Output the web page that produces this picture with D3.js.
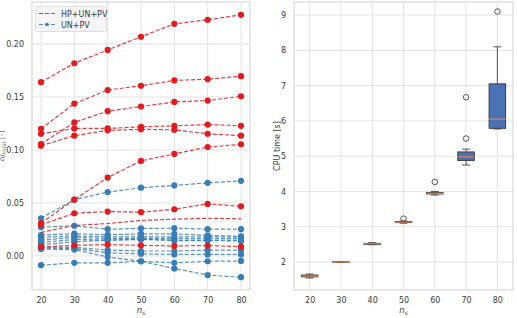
<!DOCTYPE html>
<html><head><meta charset="utf-8">
<script src="https://cdn.jsdelivr.net/npm/d3@7"></script>
<style>
html,body{margin:0;padding:0;background:#fff;}
svg{display:block;font-family:"DejaVu Sans",sans-serif;}
</style></head>
<body><svg id="c" width="517" height="318"></svg>
<script>
// ---------- data ----------
const nsValues = [20, 30, 40, 50, 60, 70, 80];
const xTicks = [20, 30, 40, 50, 60, 70, 80];
const leftYTicks = [0.00, 0.05, 0.10, 0.15, 0.20];
const rightYTicks = [2, 3, 4, 5, 6, 7, 8, 9];
const seriesNames = ["HP+UN+PV", "UN+PV"];

// HP+UN+PV (red)
const red1 = [0.164, 0.1818, 0.1944, 0.2068, 0.219, 0.2228, 0.2275];
const red2 = [0.120, 0.1438, 0.1565, 0.1606, 0.1656, 0.1668, 0.1696];
const red3 = [0.1056, 0.126, 0.1366, 0.141, 0.1453, 0.1466, 0.1506];
const red4 = [0.1153, 0.1203, 0.1203, 0.1218, 0.1228, 0.124, 0.1228];
const red5 = [0.104, 0.1135, 0.1185, 0.1195, 0.119, 0.1153, 0.1135];
const red6 = [0.031, 0.0531, 0.074, 0.0897, 0.0963, 0.1028, 0.1053];
const red7 = [0.0294, 0.0403, 0.0419, 0.0413, 0.0441, 0.0491, 0.0469];
const red8 = [0.0222, 0.0288, 0.0306, 0.0335, 0.0347, 0.0356, 0.035];
const red9 = [0.0085, 0.010, 0.0107, 0.010, 0.0095, 0.0098, 0.0088];
const redSeries = [red8, red1, red2, red3, red4, red5, red6, red7, red9];
const redHasMarkers = [false, true, true, true, true, true, true, true, true];

// UN+PV (blue)
const blue1 = [0.0356, 0.0531, 0.0603, 0.0644, 0.0666, 0.069, 0.0709];
const blue2 = [0.0272, 0.0285, 0.0253, 0.026, 0.0262, 0.0253, 0.0253];
const blue3 = [0.0197, 0.021, 0.020, 0.0209, 0.0209, 0.0194, 0.0185];
const blue4 = [0.0175, 0.019, 0.018, 0.018, 0.018, 0.018, 0.018];
const blue5 = [0.015, 0.0175, 0.0165, 0.0167, 0.0165, 0.0165, 0.0165];
const blue6 = [0.0128, 0.0156, 0.015, 0.0155, 0.015, 0.015, 0.015];
const blue7 = [0.0106, 0.0134, 0.0148, 0.016, 0.0145, 0.0145, 0.0142];
const blue8 = [0.0085, 0.0081, 0.0056, 0.0047, 0.0047, 0.0056, 0.0056];
const blue9 = [0.0075, 0.007, 0.003, 0.002, 0.0015, 0.0015, 0.0015];
const blue10 = [0.0066, 0.006, -0.001, -0.005, -0.0118, -0.018, -0.020];
const blue11 = [-0.0087, -0.0065, -0.0065, -0.005, -0.0065, -0.005, -0.0047];
const blueSeries = [blue1, blue2, blue3, blue4, blue5, blue6, blue7, blue8, blue9, blue10, blue11];

// CPU time boxplot stats per n_s
const whiskerLow  = [1.55, 1.99, 2.49, 3.10, 3.90, 4.75, 5.77];
const q1          = [1.58, 1.995, 2.50, 3.12, 3.93, 4.88, 5.79];
const median      = [1.60, 2.00, 2.52, 3.13, 3.95, 4.98, 6.05];
const q3          = [1.63, 2.005, 2.53, 3.145, 3.97, 5.12, 7.05];
const whiskerHigh = [1.66, 2.01, 2.55, 3.16, 4.00, 5.20, 8.10];
const outliers    = [[], [], [], [3.23], [4.27], [5.50, 6.67], [9.10]];

// ---------- drawing ----------
const svg = d3.select("#c");
const RED = "#e41a1c", BLUE = "#377eb8";
const GRID = "#e3e3e3", SPINE = "#d0d0d0", TXT = "#3a3a3a";

// left panel
const L = {x0: 32, x1: 250, y0: 2, y1: 290};
const xL = d3.scaleLinear().domain([17.3, 82.7]).range([L.x0, L.x1]);
const yL = d3.scaleLinear().domain([-0.0321, 0.2396]).range([L.y1, L.y0]);

const gL = svg.append("g");
gL.append("g").selectAll("line").data(xTicks).join("line")
  .attr("x1", d => xL(d)).attr("x2", d => xL(d)).attr("y1", L.y0).attr("y2", L.y1)
  .attr("stroke", GRID).attr("stroke-width", 1);
gL.append("g").selectAll("line").data(leftYTicks).join("line")
  .attr("x1", L.x0).attr("x2", L.x1).attr("y1", d => yL(d)).attr("y2", d => yL(d))
  .attr("stroke", GRID).attr("stroke-width", 1);

const axBL = gL.append("g").attr("transform", `translate(0,${L.y1})`)
  .call(d3.axisBottom(xL).tickValues(xTicks).tickSize(0).tickPadding(7));
const axLL = gL.append("g").attr("transform", `translate(${L.x0},0)`)
  .call(d3.axisLeft(yL).tickValues(leftYTicks).tickFormat(d3.format(".2f")).tickSize(0).tickPadding(8));
[axBL, axLL].forEach(a => {
  a.select(".domain").remove();
  a.selectAll("text").attr("fill", TXT).style("font-size", "8px").style("font-family", "DejaVu Sans");
});
gL.append("rect").attr("x", L.x0).attr("y", L.y0).attr("width", L.x1 - L.x0).attr("height", L.y1 - L.y0)
  .attr("fill", "none").attr("stroke", SPINE).attr("stroke-width", 1);

const line = d3.line().x((d, i) => xL(nsValues[i])).y(d => yL(d));
const plotG = gL.append("g");
function drawSeries(vals, color, markers) {
  plotG.append("path").attr("d", line(vals)).attr("fill", "none")
    .attr("stroke", color).attr("stroke-width", 1.2).attr("stroke-dasharray", "4,2")
    .attr("opacity", 0.85);
  if (markers) {
    plotG.append("g").selectAll("circle").data(vals).join("circle")
      .attr("cx", (d, i) => xL(nsValues[i])).attr("cy", d => yL(d)).attr("r", 3.1)
      .attr("fill", color);
  }
}
blueSeries.forEach(s => drawSeries(s, BLUE, true));
redSeries.forEach((s, i) => drawSeries(s, RED, redHasMarkers[i]));

// legend
const lg = gL.append("g");
lg.append("rect").attr("x", 35.5).attr("y", 6.5).attr("width", 71).attr("height", 25).attr("rx", 2)
  .attr("fill", "#f4f4f7").attr("fill-opacity", 0.9).attr("stroke", "#e0e0e0");
const lgColors = [RED, BLUE];
seriesNames.forEach((n, i) => {
  const yy = 13.5 + i * 11;
  lg.append("line").attr("x1", 39).attr("x2", 55).attr("y1", yy).attr("y2", yy)
    .attr("stroke", lgColors[i]).attr("stroke-width", 1.2).attr("stroke-dasharray", "4,2").attr("opacity", 0.85);
  if (i === 1) lg.append("circle").attr("cx", 47).attr("cy", yy).attr("r", 1.8).attr("fill", lgColors[i]);
  lg.append("text").attr("x", 61).attr("y", yy + 3).text(n).attr("fill", TXT).style("font-size", "8px");
});

// x label left
const xlabL = gL.append("text").attr("x", (L.x0 + L.x1) / 2).attr("y", 313).attr("text-anchor", "middle")
  .attr("fill", TXT).style("font-size", "8.5px");
xlabL.append("tspan").text("n").style("font-style", "italic");
xlabL.append("tspan").text("s").attr("dy", 2).style("font-size", "6px");

// y label left (partially clipped, as in the reference)
const ylabL = gL.append("text").attr("transform", "translate(4,146) rotate(-90)").attr("text-anchor", "middle")
  .attr("fill", "#777").style("font-size", "7.5px");
ylabL.append("tspan").text("Δ");
ylabL.append("tspan").text("J").style("font-style", "italic");
ylabL.append("tspan").text("total").attr("dy", 2).style("font-size", "5.5px");
ylabL.append("tspan").text(" [-]").attr("dy", -2);

// right panel
const R = {x0: 294, x1: 513, y0: 2, y1: 290};
const xR = d3.scalePoint().domain(nsValues).range([R.x0, R.x1]).padding(0.5);
const yR = d3.scaleLinear().domain([1.207, 9.37]).range([R.y1, R.y0]);
const gR = svg.append("g");
gR.append("g").selectAll("line").data(nsValues).join("line")
  .attr("x1", d => xR(d)).attr("x2", d => xR(d)).attr("y1", R.y0).attr("y2", R.y1)
  .attr("stroke", GRID).attr("stroke-width", 1);
gR.append("g").selectAll("line").data(rightYTicks).join("line")
  .attr("x1", R.x0).attr("x2", R.x1).attr("y1", d => yR(d)).attr("y2", d => yR(d))
  .attr("stroke", GRID).attr("stroke-width", 1);
const axBR = gR.append("g").attr("transform", `translate(0,${R.y1})`)
  .call(d3.axisBottom(xR).tickSize(0).tickPadding(7));
const axLR = gR.append("g").attr("transform", `translate(${R.x0},0)`)
  .call(d3.axisLeft(yR).tickValues(rightYTicks).tickFormat(d3.format("d")).tickSize(0).tickPadding(8));
[axBR, axLR].forEach(a => {
  a.select(".domain").remove();
  a.selectAll("text").attr("fill", TXT).style("font-size", "8px").style("font-family", "DejaVu Sans");
});
gR.append("rect").attr("x", R.x0).attr("y", R.y0).attr("width", R.x1 - R.x0).attr("height", R.y1 - R.y0)
  .attr("fill", "none").attr("stroke", SPINE).attr("stroke-width", 1);

const boxW = 16.5, capW = 8;
nsValues.forEach((n, i) => {
  const cx = xR(n);
  const g = gR.append("g");
  g.append("line").attr("x1", cx).attr("x2", cx).attr("y1", yR(whiskerLow[i])).attr("y2", yR(q1[i]))
    .attr("stroke", "#555").attr("stroke-width", 1);
  g.append("line").attr("x1", cx).attr("x2", cx).attr("y1", yR(q3[i])).attr("y2", yR(whiskerHigh[i]))
    .attr("stroke", "#555").attr("stroke-width", 1);
  [whiskerLow[i], whiskerHigh[i]].forEach(v => g.append("line")
    .attr("x1", cx - capW / 2).attr("x2", cx + capW / 2).attr("y1", yR(v)).attr("y2", yR(v))
    .attr("stroke", "#555").attr("stroke-width", 1));
  g.append("rect").attr("x", cx - boxW / 2).attr("y", yR(q3[i])).attr("width", boxW)
    .attr("height", Math.max(0.01, yR(q1[i]) - yR(q3[i])))
    .attr("fill", "#4a72b4").attr("stroke", "#3c3c3c").attr("stroke-width", 1);
  g.append("line").attr("x1", cx - boxW / 2).attr("x2", cx + boxW / 2)
    .attr("y1", yR(median[i])).attr("y2", yR(median[i]))
    .attr("stroke", "#dd8452").attr("stroke-width", 1.2);
  g.selectAll("circle").data(outliers[i]).join("circle")
    .attr("cx", cx).attr("cy", d => yR(d)).attr("r", 2.8)
    .attr("fill", "none").attr("stroke", "#444").attr("stroke-width", 0.9);
});

const xlabR = gR.append("text").attr("x", (R.x0 + R.x1) / 2).attr("y", 313).attr("text-anchor", "middle")
  .attr("fill", TXT).style("font-size", "8.5px");
xlabR.append("tspan").text("n").style("font-style", "italic");
xlabR.append("tspan").text("s").attr("dy", 2).style("font-size", "6px");

gR.append("text").attr("transform", "translate(280,146) rotate(-90)").attr("text-anchor", "middle")
  .attr("fill", TXT).style("font-size", "8px").text("CPU time [s]");
</script></body></html>
